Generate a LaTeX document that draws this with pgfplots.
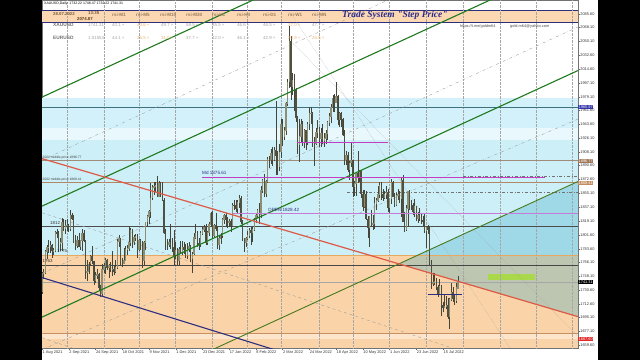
\documentclass[border=0pt]{standalone}
\usepackage{fontspec}
\setmainfont{Liberation Sans}
\newfontfamily\serifit{Liberation Serif}
\usepackage{pgfplots}
\usepackage{pgfplotstable}
\pgfplotsset{compat=1.18}
\newcommand\fz[1]{\fontsize{#1}{#1}\selectfont}
\definecolor{cyanA}{HTML}{D2F1FA}
\definecolor{cyanL}{HTML}{E8F8FC}
\definecolor{cyanB}{HTML}{CDEFF8}
\definecolor{orZ}{HTML}{FAD4A8}
\definecolor{orL}{HTML}{FDE5CB}
\definecolor{hdr}{HTML}{FCD8B2}
\definecolor{navyc}{HTML}{2E2E80}
\definecolor{gline}{HTML}{1F7A1F}
\definecolor{rline}{HTML}{DC5A46}
\definecolor{magc}{HTML}{C23DC2}
\definecolor{vioc}{HTML}{C77AD6}
\definecolor{wickc}{HTML}{45453A}
\definecolor{bullc}{HTML}{8E8E72}
\definecolor{bearc}{HTML}{505040}
\definecolor{tealov}{HTML}{3FA9C4}
\definecolor{limec}{HTML}{A9D94A}
\definecolor{tanc}{HTML}{9C7C5C}
\definecolor{valg}{HTML}{A4A4A4}
\definecolor{valo}{HTML}{E9B272}
\pgfplotstableread{
i o h l c
0 1729 1754 1725 1752
1 1752 1758 1745 1753
2 1753 1782 1751 1780
3 1780 1788 1771 1786
4 1786 1795 1778 1786
5 1786 1794 1778 1788
6 1788 1790 1772 1781
7 1781 1785 1776 1781
8 1781 1806 1779 1805
9 1805 1809 1797 1803
10 1803 1806 1780 1790
11 1790 1797 1781 1792
12 1792 1823 1781 1818
13 1818 1822 1807 1810
14 1810 1820 1803 1814
15 1814 1822 1807 1814
16 1814 1816 1805 1809
17 1809 1834 1806 1827
18 1827 1830 1820 1823
19 1823 1827 1791 1794
20 1794 1801 1782 1788
21 1788 1800 1785 1794
22 1794 1804 1786 1787
23 1787 1795 1782 1794
24 1794 1809 1781 1804
25 1804 1808 1792 1794
26 1794 1795 1745 1754
27 1754 1769 1742 1754
28 1754 1767 1751 1764
29 1764 1776 1762 1774
30 1774 1787 1764 1768
31 1768 1768 1737 1743
32 1743 1754 1740 1750
33 1750 1758 1745 1751
34 1751 1753 1731 1734
35 1734 1737 1721 1726
36 1726 1764 1722 1757
37 1757 1765 1753 1761
38 1761 1772 1751 1769
39 1769 1771 1756 1760
40 1760 1764 1746 1762
41 1762 1766 1754 1757
42 1757 1781 1749 1757
43 1757 1762 1750 1754
44 1754 1769 1752 1760
45 1760 1796 1758 1793
46 1793 1801 1786 1797
47 1797 1798 1763 1767
48 1767 1772 1760 1765
49 1765 1784 1764 1769
50 1769 1787 1768 1783
51 1783 1788 1776 1784
52 1784 1813 1781 1792
53 1792 1810 1787 1807
54 1807 1809 1785 1793
55 1793 1801 1789 1798
56 1798 1803 1794 1799
57 1799 1802 1772 1783
58 1783 1796 1781 1794
59 1794 1796 1782 1787
60 1787 1793 1759 1769
61 1769 1794 1761 1792
62 1792 1818 1782 1818
63 1818 1827 1811 1825
64 1825 1834 1815 1832
65 1832 1868 1823 1849
66 1849 1866 1846 1862
67 1862 1869 1853 1864
68 1864 1869 1857 1865
69 1865 1877 1850 1851
70 1851 1871 1850 1868
71 1868 1870 1850 1858
72 1858 1870 1845 1846
73 1846 1849 1803 1805
74 1805 1809 1782 1790
75 1790 1796 1782 1789
76 1789 1796 1786 1792
77 1792 1815 1783 1788
78 1788 1798 1779 1785
79 1785 1808 1762 1775
80 1775 1792 1771 1782
81 1782 1784 1762 1768
82 1768 1786 1762 1783
83 1783 1793 1777 1779
84 1779 1793 1776 1785
85 1785 1792 1777 1783
86 1783 1790 1772 1775
87 1775 1791 1770 1783
88 1783 1792 1780 1787
89 1787 1789 1766 1771
90 1771 1779 1753 1777
91 1777 1804 1776 1798
92 1798 1815 1796 1804
93 1804 1806 1786 1791
94 1791 1797 1782 1789
95 1789 1806 1786 1803
96 1803 1812 1801 1808
97 1808 1814 1805 1811
98 1811 1816 1789 1792
99 1792 1807 1789 1805
100 1805 1818 1800 1815
101 1815 1831 1811 1829
102 1829 1832 1798 1801
103 1801 1816 1799 1814
104 1814 1829 1807 1810
105 1810 1811 1783 1789
106 1789 1800 1782 1797
107 1797 1804 1790 1801
108 1801 1823 1798 1821
109 1821 1828 1815 1826
110 1826 1829 1812 1821
111 1821 1824 1811 1817
112 1817 1822 1812 1819
113 1819 1822 1805 1813
114 1813 1843 1811 1840
115 1840 1846 1834 1839
116 1839 1846 1831 1835
117 1835 1846 1830 1843
118 1843 1853 1836 1848
119 1848 1852 1816 1819
120 1819 1821 1793 1797
121 1797 1797 1780 1791
122 1791 1799 1786 1797
123 1797 1807 1795 1801
124 1801 1810 1797 1807
125 1807 1812 1789 1804
126 1804 1812 1792 1808
127 1808 1823 1806 1821
128 1821 1829 1817 1826
129 1826 1835 1823 1833
130 1833 1842 1815 1827
131 1827 1865 1823 1859
132 1859 1874 1855 1871
133 1871 1880 1850 1855
134 1855 1872 1850 1870
135 1870 1902 1868 1899
136 1899 1903 1887 1898
137 1898 1912 1893 1906
138 1906 1914 1890 1898
139 1898 1914 1897 1910
140 1910 1974 1878 1903
141 1903 1910 1879 1889
142 1889 1918 1884 1908
143 1908 1950 1900 1943
144 1943 1950 1916 1928
145 1928 1940 1923 1936
146 1936 1972 1930 1970
147 1970 2002 1967 1998
148 1998 2070 1990 2050
149 2050 2057 1975 1992
150 1992 2010 1981 2000
151 2000 2009 1961 1988
152 1988 1990 1947 1952
153 1952 1955 1906 1918
154 1918 1950 1895 1928
155 1928 1950 1920 1943
156 1943 1948 1916 1921
157 1921 1938 1913 1936
158 1936 1937 1911 1921
159 1921 1947 1917 1944
160 1944 1966 1936 1958
161 1958 1966 1944 1958
162 1958 1959 1915 1922
163 1922 1927 1890 1919
164 1919 1939 1917 1933
165 1933 1949 1926 1937
166 1937 1940 1915 1925
167 1925 1939 1915 1932
168 1932 1944 1918 1923
169 1923 1933 1915 1925
170 1925 1937 1919 1932
171 1932 1948 1924 1946
172 1946 1958 1941 1954
173 1954 1970 1946 1966
174 1966 1981 1959 1977
175 1977 1983 1960 1971
176 1971 1998 1972 1979
177 1979 1982 1943 1950
178 1950 1959 1940 1958
179 1958 1960 1940 1950
180 1950 1952 1929 1931
181 1931 1936 1891 1898
182 1898 1909 1891 1904
183 1904 1908 1882 1885
184 1885 1897 1872 1894
185 1894 1920 1889 1897
186 1897 1898 1850 1863
187 1863 1871 1852 1868
188 1868 1882 1852 1881
189 1881 1909 1868 1876
190 1876 1885 1869 1883
191 1883 1885 1849 1854
192 1854 1859 1832 1838
193 1838 1859 1836 1853
194 1853 1858 1821 1822
195 1822 1826 1797 1811
196 1811 1825 1786 1825
197 1825 1833 1812 1815
198 1815 1827 1808 1816
199 1816 1850 1809 1842
200 1842 1849 1834 1846
201 1846 1865 1844 1853
202 1853 1869 1849 1865
203 1865 1870 1847 1853
204 1853 1860 1845 1850
205 1850 1858 1848 1853
206 1853 1864 1848 1856
207 1856 1860 1831 1837
208 1837 1849 1828 1848
209 1848 1874 1841 1869
210 1869 1871 1850 1851
211 1851 1855 1837 1841
212 1841 1856 1839 1852
213 1852 1860 1847 1853
214 1853 1858 1843 1848
215 1848 1875 1825 1871
216 1871 1878 1819 1819
217 1819 1831 1805 1808
218 1808 1840 1807 1835
219 1835 1858 1812 1857
220 1857 1859 1833 1840
221 1840 1846 1833 1839
222 1839 1843 1827 1832
223 1832 1848 1825 1838
224 1838 1839 1819 1822
225 1822 1831 1817 1827
226 1827 1836 1819 1823
227 1823 1829 1815 1820
228 1820 1826 1813 1818
229 1818 1829 1804 1807
230 1807 1813 1784 1811
231 1811 1814 1803 1808
232 1808 1812 1763 1764
233 1764 1769 1732 1739
234 1739 1752 1736 1740
235 1740 1752 1737 1742
236 1742 1746 1730 1734
237 1734 1737 1722 1725
238 1725 1745 1724 1735
239 1735 1737 1697 1711
240 1711 1715 1702 1708
241 1708 1724 1707 1709
242 1709 1723 1706 1711
243 1711 1720 1693 1696
244 1696 1720 1680 1718
245 1718 1739 1717 1727
246 1727 1735 1715 1719
247 1719 1726 1711 1717
248 1717 1740 1714 1734
249 1732 1748 1732 1741
}\candles
\pgfplotsset{candle/.style={only marks, mark=*, mark size=0.01pt,
  mark options={draw opacity=0, fill opacity=0}}}
\begin{document}
\begin{tikzpicture}
\useasboundingbox (0,0) rectangle (640pt,360pt);
\fill[black] (0,0) rectangle (640pt,360pt);
\fill[white] (42pt,0) rectangle (598pt,360pt);
\begin{axis}[
  at={(42pt,12pt)}, anchor=south west,
  scale only axis, width=536pt, height=348pt,
  xmin=0, xmax=320.77, ymin=1656.0, ymax=2103.6,
  clip mode=individual,
  axis line style={draw=black!55, line width=0.4pt},
  tick align=outside, major tick length=1.5pt,
  tick style={draw=black!60, line width=0.3pt},
  xtick pos=lower, ytick pos=right, yticklabel pos=right,
  xtick={0,16,...,240},
  xticklabels={1 Aug 2021,2 Sep 2021,24 Sep 2021,18 Oct 2021,9 Nov 2021,1 Dec 2021,23 Dec 2021,17 Jan 2022,8 Feb 2022,2 Mar 2022,24 Mar 2022,18 Apr 2022,10 May 2022,1 Jun 2022,23 Jun 2022,15 Jul 2022},
  xticklabel style={anchor=north west, inner sep=0.4pt, yshift=-0.6pt, font=\fz{3.9}, text=black!80},
  ytick={2085.6,2068.1,2050.1,2032.6,2014.6,1997.1,1979.1,1961.6,1943.6,1926.1,1908.1,1890.6,1872.6,1855.1,1837.1,1819.1,1801.6,1783.6,1766.1,1748.1,1730.6,1712.6,1695.1,1677.1,1659.6},
  yticklabels={2085.60,2068.10,2050.10,2032.60,2014.60,1997.10,1979.10,1961.60,1943.60,1926.10,1908.10,1890.60,1872.60,1855.10,1837.10,1819.10,1801.60,1783.60,1766.10,1748.10,1730.60,1712.60,1695.10,1677.10,1659.60},
  yticklabel style={anchor=west, inner sep=0.4pt, xshift=0.3pt, font=\fz{3.9}, text=black!80},
]
% background zones
\addplot[fill=hdr, draw=none] coordinates {(0,2075.3) (320.77,2075.3) (320.77,2090.7) (0,2090.7)} -- cycle;
\addplot[fill=cyanA, draw=none] coordinates {(0,1939.0) (320.77,1939.0) (320.77,1977.6) (0,1977.6)} -- cycle;
\addplot[fill=cyanL, draw=none] coordinates {(0,1923.5) (320.77,1923.5) (320.77,1939.0) (0,1939.0)} -- cycle;
\addplot[fill=cyanB, draw=none] coordinates {(0,1775.6) (320.77,1775.6) (320.77,1923.5) (0,1923.5)} -- cycle;
\addplot[fill=orZ, draw=none] coordinates {(0,1656.0) (320.77,1656.0) (320.77,1775.6) (0,1775.6)} -- cycle;
\addplot[fill=orL, draw=none] coordinates {(0,1667.6) (320.77,1667.6) (320.77,1674.0) (0,1674.0)} -- cycle;
\addplot[fill=tealov, fill opacity=0.32, draw=none] coordinates {(213.6,1764.0) (320.77,1869.5) (320.77,1695.9)} -- cycle;
\addplot[fill=limec, draw=none] coordinates {(266.9,1743.5) (295.1,1743.5) (295.1,1751.2) (266.9,1751.2)} -- cycle;
% header band borders
\addplot[navyc, line width=0.8pt] coordinates {(0,2090.7) (320.77,2090.7)};
\addplot[navyc, line width=0.8pt] coordinates {(0,2075.3) (320.77,2075.3)};
% month grid
\addplot[ycomb, black!35, densely dotted, line width=0.4pt] coordinates {(15,2110) (37,2110) (58,2110) (80,2110) (102,2110) (123,2110) (143,2110) (166,2110) (186,2110) (208,2110) (230,2110) (252,2110) (274,2110) (296,2110) (317,2110)};
% horizontal levels
\addplot[color={rgb,255:red,63;green,112;blue,128}, line width=0.7pt] coordinates {(0,1966.0) (320.77,1966.0)};
\addplot[color={rgb,255:red,160;green,140;blue,120}, line width=0.8pt] coordinates {(0,1896.77) (320.77,1896.77)};
\addplot[color={rgb,255:red,176;green,136;blue,104}, line width=0.8pt] coordinates {(0,1868.41) (320.77,1868.41)};
\addplot[black!70, line width=0.9pt] coordinates {(0,1812.7) (320.77,1812.7)};
\addplot[color={rgb,255:red,232;green,168;blue,96}, line width=0.6pt] coordinates {(0,1775.6) (320.77,1775.6)};
\addplot[black!72, line width=1.0pt] coordinates {(0,1762.6) (320.77,1762.6)};
\addplot[black!35, line width=0.35pt] coordinates {(0,1741.31) (320.77,1741.31)};
\addplot[color={rgb,255:red,200;green,144;blue,96}, line width=0.6pt] coordinates {(0,1675.4) (320.77,1675.4)};
\addplot[black!55, line width=0.4pt, dash dot] coordinates {(182.5,1857.0) (320.77,1857.0)};
\addplot[black!55, line width=0.4pt, dash dot] coordinates {(252,1877.6) (320.77,1877.6)};
% thin dashed helper lines
\addplot[black!40, line width=0.35pt, dashed] coordinates {(0,1830.0) (245.4,1656.0)};
\addplot[black!40, line width=0.35pt, dashed] coordinates {(0,1669.3) (18,1656.0)};
\addplot[black!40, line width=0.35pt, dash dot] coordinates {(0,1897.5) (207.1,2103.6)};
\addplot[black!40, line width=0.35pt, dash dot] coordinates {(0,1751.8) (320.77,2069.0)};
\addplot[black!40, line width=0.35pt, dash dot] coordinates {(0,1654.1) (320.77,1950.4)};
\addplot[black!40, line width=0.35pt, densely dotted] coordinates {(148.4,2088.2) (280.1,1656.0)};
\addplot[black!40, line width=0.35pt, densely dotted] coordinates {(150.2,2048.3) (320.77,1670.7)};
% candles: wicks, bullish bodies, bearish bodies
\addplot[candle, error bars/.cd, y dir=both, y explicit, error mark=none,
  error bar style={line width=0.5pt, color=wickc}]
  table[x=i, y expr={(\thisrow{h}+\thisrow{l})/2}, y error expr={(\thisrow{h}-\thisrow{l})/2}] {\candles};
\addplot[candle, restrict expr to domain={\thisrow{c}-\thisrow{o}}{0:1000},
  error bars/.cd, y dir=both, y explicit, error mark=none,
  error bar style={line width=1.35pt, color=bullc}]
  table[x=i, y expr={(\thisrow{o}+\thisrow{c})/2}, y error expr={abs(\thisrow{c}-\thisrow{o})/2+0.5}] {\candles};
\addplot[candle, restrict expr to domain={\thisrow{c}-\thisrow{o}}{-1000:-0.01},
  error bars/.cd, y dir=both, y explicit, error mark=none,
  error bar style={line width=1.35pt, color=bearc}]
  table[x=i, y expr={(\thisrow{o}+\thisrow{c})/2}, y error expr={abs(\thisrow{c}-\thisrow{o})/2+0.5}] {\candles};
% trend lines
\addplot[gline, line width=1.1pt] coordinates {(0,1978.7) (130,2107.2)};
\addplot[gline, line width=1.1pt] coordinates {(0,1838.5) (270,2105.4)};
\addplot[gline, line width=1.1pt] coordinates {(0,1695.7) (320.77,2012.9)};
\addplot[color={rgb,255:red,70;green,120;blue,30}, line width=0.9pt] coordinates {(0,1553.0) (320.77,1870.2)};
\addplot[rline, line width=1.2pt] coordinates {(0,1899.6) (320.77,1696.3)};
\addplot[navyc, line width=1.1pt] coordinates {(0,1746.6) (140,1653.2)};
% magenta levels
\addplot[magc, line width=0.9pt] coordinates {(95.7,1875.61) (301,1875.61)};
\addplot[vioc, line width=0.9pt] coordinates {(114.3,1828.42) (320.77,1828.42)};
\addplot[magc, line width=0.8pt] coordinates {(152.6,1920.9) (207.1,1920.9)};
\addplot[navyc, line width=0.9pt] coordinates {(231,1725.5) (251.4,1725.5)};
% label anchors
\coordinate (LA) at (axis cs:320.77,1965.97);
\coordinate (LB) at (axis cs:320.77,1896.77);
\coordinate (LC) at (axis cs:320.77,1868.41);
\coordinate (LD) at (axis cs:320.77,1741.31);
\coordinate (LE) at (axis cs:320.77,1667.60);
\end{axis}
\begin{scope}[every node/.style={inner sep=0.5pt, anchor=west, text=white, font=\fz{3.9}}]
\node[fill={rgb,255:red,52;green,52;blue,168}] at (LA) {1965.97};
\node[fill={rgb,255:red,160;green,120;blue,88}] at (LB) {1896.77};
\node[fill={rgb,255:red,196;green,140;blue,92}] at (LC) {1868.41};
\node[fill=black] at (LD) {1741.31};
\node[fill={rgb,255:red,224;green,40;blue,40}] at (LE) {1667.60};
\end{scope}
\begin{scope}[x=1pt, y=-1pt, yshift=360pt, every node/.style={inner sep=0pt, anchor=west}]
\node[font=\fz{3.5}, text=black] at (44,4) {XAUUSD,Daily\ \ 1732.22 1748.47 1732.22 1741.31};
\node[font=\bfseries\fz{4.3}, text={rgb,255:red,122;green,90;blue,58}] at (53,14) {28.07.2022};
\node[font=\bfseries\fz{4.3}, text={rgb,255:red,122;green,90;blue,58}] at (88,13.2) {13:35};
\node[font=\bfseries\fz{4.3}, text={rgb,255:red,90;green,58;blue,26}] at (77,18.6) {2074.87};
\foreach \x/\t in {112/rsi-M1,136/rsi-M5,160/rsi-M15,186/rsi-M30,212/rsi-H1,237/rsi-H4,263/rsi-D1,288/rsi-W1,312/rsi-MN}
  \node[font=\bfseries\fz{4.6}, text=tanc] at (\x,14.5) {\t};
\node[font=\serifit\bfseries\itshape\fz{9.5}, text={rgb,255:red,43;green,43;blue,140}] at (342,15) {Trade System "Step Price"};
\node[font=\fz{3.9}, text=black!70] at (460,26) {https://t.me/goldm64};
\node[font=\fz{3.9}, text=black!70] at (510,26) {gold.m64@yahoo.com};
\node[font=\bfseries\fz{4.8}, text=black!55] at (53,25) {XAUUSD};
\node[font=\bfseries\fz{4.8}, text=black!55] at (53,38) {EURUSD};
\foreach \x/\t/\c in {88/1741.31/valg,112/40.1 +/valg,137/40.6 +/valo,161/49.7 +/valg,186/58.5 +/valg,212/35.5 +/valg,237/46.6 +/valg,263/46.5 +/valg,288/27.0 +/valo,312/47.7 +/valg}
  \node[font=\fz{4.4}, text=\c] at (\x,25) {\t};
\foreach \x/\t/\c in {88/1.01553/valg,112/44.1 +/valg,137/25.5 +/valo,161/31.0 +/valo,186/37.7 +/valg,212/42.0 +/valg,237/46.1 +/valg,263/42.9 +/valg,288/20.9 +/valo,312/25.5 +/valo}
  \node[font=\fz{4.4}, text=\c] at (\x,38) {\t};
\node[font=\fz{3.3}, text=black!75] at (42.5,157.6) {2021 middle price 1896.77};
\node[font=\fz{3.3}, text=black!75] at (42.5,179.2) {2022 middle price 1868.41};
\node[font=\fz{4.6}, text=navyc] at (202,173) {Md 1875.61};
\node[font=\fz{4.6}, text=navyc] at (268,209.5) {OPEN 1828.42};
\node[font=\fz{4.4}, text=black!80] at (50,222.5) {1812};
\node[font=\fz{4.4}, text=black!80] at (57,251) {1775};
\node[font=\fz{4.4}, text=black!80] at (42.5,261) {1763};
\end{scope}
\end{tikzpicture}
\end{document}
